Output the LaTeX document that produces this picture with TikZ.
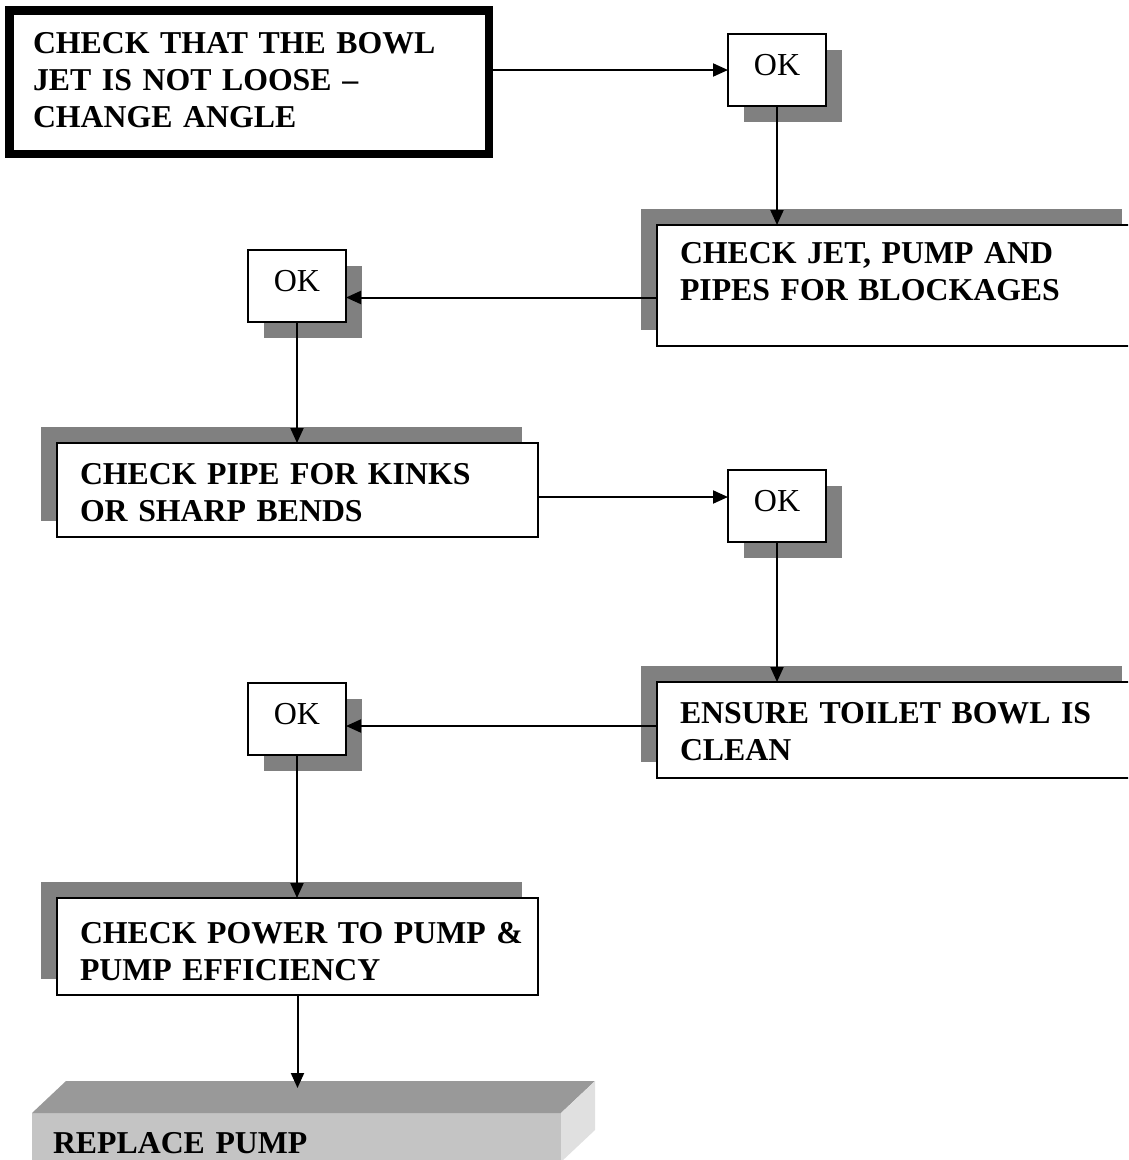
\documentclass[tikz,border=0pt]{standalone}
\usepackage{fontspec}
\setmainfont{Liberation Serif}[WordSpace=0.8]
\usetikzlibrary{arrows.meta,shadows}
\begin{document}
\begin{tikzpicture}[x=1pt, y=-1pt, >={Triangle[length=15pt,width=13pt]},
    box/.style={draw, fill=white, anchor=north west, align=left, inner xsep=23pt, inner ysep=0pt,
      outer sep=0pt, text width=435pt, font=\bfseries\fontsize{31.8}{37}\selectfont},
    block/.style={box, line width=2.5pt,
      drop shadow={shadow xshift=-16pt, shadow yshift=16pt, fill=gray, opacity=1}},
    okbox/.style={draw, fill=white, line width=2.5pt, anchor=north west, minimum width=98pt,
      inner sep=0pt, outer sep=0pt, text height=41pt, text depth=31pt, font=\fontsize{32}{37}\selectfont,
      drop shadow={shadow xshift=16pt, shadow yshift=-16pt, fill=gray, opacity=1}},
    link/.style={->, line width=2pt}]
    \clip (0,0) rectangle (1128,1160);

    % steps
    \node[box, line width=8.5pt, inner xsep=23.5pt, text width=432.5pt, text height=42.5pt, text depth=101pt]
      (start) at (9.5,10.5) {CHECK THAT THE BOWL\\JET IS NOT LOOSE –\\CHANGE ANGLE};
    \node[okbox] (ok1) at (728,34) {OK};
    \node[block, text height=38pt, text depth=83pt] (jet) at (657,225) {CHECK JET, PUMP AND\\PIPES FOR BLOCKAGES};
    \node[okbox] (ok2) at (248,250) {OK};
    \node[block, text height=41pt, text depth=53pt] (pipe) at (57,443) {CHECK PIPE FOR KINKS\\OR SHARP BENDS};
    \node[okbox] (ok3) at (728,470) {OK};
    \node[block, text height=41pt, text depth=55pt] (clean) at (657,682) {ENSURE TOILET BOWL IS\\CLEAN};
    \node[okbox] (ok4) at (248,683) {OK};
    \node[block, text height=45pt, text depth=52pt] (power) at (57,898) {\mbox{CHECK POWER TO PUMP \&}\\PUMP EFFICIENCY};

    % last step, raised slab
    \node[box, draw=none, fill=black!23, inner xsep=21pt, text width=487pt, text height=40pt, text depth=9pt]
      (replace) at (32,1113) {REPLACE PUMP};
    \fill[black!40] (replace.north west) -- ++(34,-32) -- ([shift={(34,-32)}]replace.north east)
      -- (replace.north east) -- cycle;
    \fill[black!12] (replace.north east) -- ++(34,-32) -- ([shift={(34,-32)}]replace.south east)
      -- (replace.south east) -- cycle;

    % arrows
    \draw[link] (start.east |- ok1.west) -- (ok1.west);
    \draw[link] (ok1.south) -- (ok1.south |- jet.north);
    \draw[link] ([yshift=-12pt]jet.west) -- ([yshift=-12pt]jet.west -| ok2.east);
    \draw[link] (ok2.south) -- (ok2.south |- pipe.north);
    \draw[link] ([yshift=-7pt]pipe.east) -- ([yshift=-7pt]pipe.east -| ok3.west);
    \draw[link] (ok3.south) -- (ok3.south |- clean.north);
    \draw[link] ([yshift=4pt]clean.west) -- ([yshift=4pt]clean.west -| ok4.east);
    \draw[link] (ok4.south) -- (ok4.south |- power.north);
    \draw[link] (power.south) -- ([yshift=25pt]power.south |- replace.north);
\end{tikzpicture}
\end{document}
